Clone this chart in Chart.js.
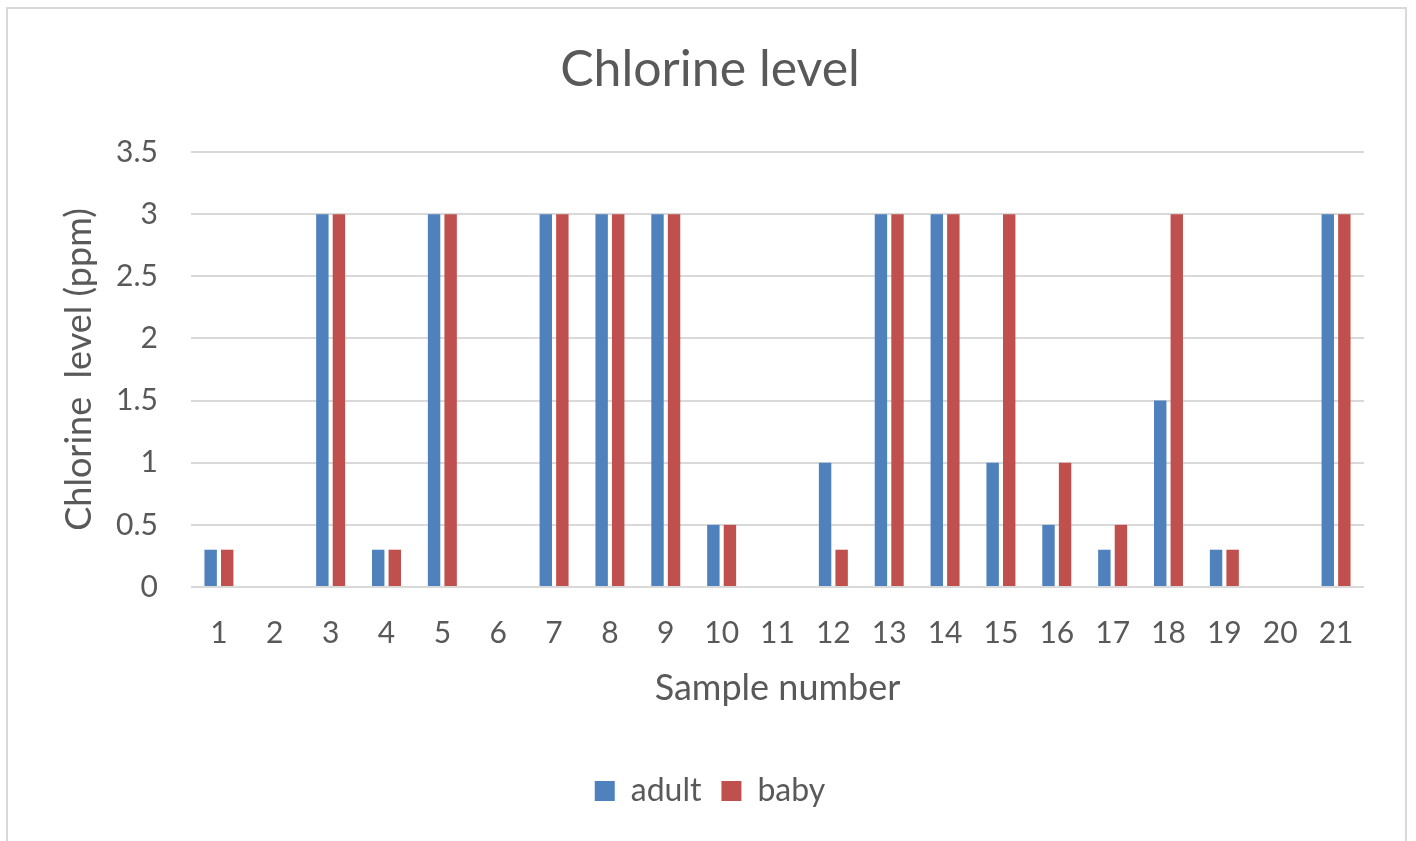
<!DOCTYPE html>
<html>
<head>
<meta charset="utf-8">
<script src="https://cdn.jsdelivr.net/npm/chart.js@4"></script>
<style>
  html, body { margin: 0; padding: 0; background: #fff; }
  #wrap { position: relative; width: 1416px; height: 841px; }
  #frame { position: absolute; left: 6px; top: 7px; width: 1397px; height: 840px; border: 2px solid #d9d9d9; border-bottom: none; }
  canvas { position: absolute; left: 0; top: 0; }
</style>
</head>
<body>
<div id="wrap">
  <div id="frame"></div>
  <canvas id="chlorineChart" width="1416" height="841"></canvas>
</div>
<script>
const samples = ["1","2","3","4","5","6","7","8","9","10","11","12","13","14","15","16","17","18","19","20","21"];
const adult = [0.3, 0, 3, 0.3, 3, 0, 3, 3, 3, 0.5, 0, 1, 3, 3, 1, 0.5, 0.3, 1.5, 0.3, 0, 3];
const baby  = [0.3, 0, 3, 0.3, 3, 0, 3, 3, 3, 0.5, 0, 0.3, 3, 3, 3, 1, 0.5, 3, 0.3, 0, 3];

const textColor = "#595959";
const fontName = "Lato, 'Open Sans', sans-serif";

const ctx = document.getElementById("chlorineChart");

new Chart(ctx, {
    type: "bar",
    data: {
        labels: samples,
        datasets: [
            { label: "adult", data: adult, backgroundColor: "#4f81bd", categoryPercentage: 0.593, barPercentage: 0.75 },
            { label: "baby", data: baby, backgroundColor: "#c0504d", categoryPercentage: 0.593, barPercentage: 0.75 }
        ]
    },
    options: {
        responsive: false,
        animation: false,
        layout: { padding: { left: 56, right: 52, top: 0, bottom: 24 } },
        plugins: {
            title: {
                display: true,
                text: "Chlorine level",
                color: textColor,
                font: { family: fontName, size: 50, weight: "normal" },
                padding: { top: 40, bottom: 52 }
            },
            legend: {
                position: "bottom",
                labels: {
                    color: textColor,
                    font: { family: fontName, size: 32 },
                    boxWidth: 20,
                    boxHeight: 20,
                    padding: 20
                }
            },
            tooltip: { enabled: false }
        },
        scales: {
            x: {
                grid: { display: false, drawTicks: false },
                border: { display: false },
                ticks: { color: textColor, font: { family: fontName, size: 30 }, padding: 28, maxRotation: 0 },
                title: { display: true, text: "Sample number", color: textColor, font: { family: fontName, size: 36 }, padding: { top: 0, bottom: 45 } },
                afterFit: function (scale) { scale.height = 168; }
            },
            y: {
                min: 0,
                max: 3.5,
                ticks: {
                    stepSize: 0.5,
                    color: textColor,
                    font: { family: fontName, size: 30 },
                    padding: 33,
                    callback: function (value) { return String(value); }
                },
                grid: { color: "#d9d9d9", lineWidth: 2, drawTicks: false },
                border: { display: false },
                title: { display: true, text: "Chlorine  level (ppm)", color: textColor, font: { family: fontName, size: 36 }, padding: { top: 2, bottom: 0 } },
                afterFit: function (scale) { scale.width = 135; }
            }
        }
    }
});
</script>
</body>
</html>
